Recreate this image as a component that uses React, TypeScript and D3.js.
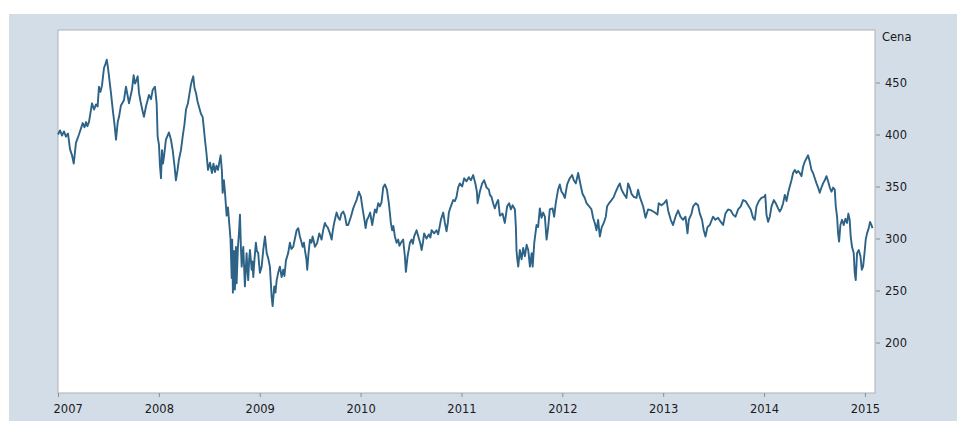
import React, { useRef, useEffect } from "react";
import * as d3 from "d3";

// decimal year of each reading, price
const years = [
  2007.0, 2007.02, 2007.04, 2007.059, 2007.079, 2007.099, 2007.119, 2007.139, 2007.156, 2007.178,
  2007.208, 2007.245, 2007.263, 2007.278, 2007.292, 2007.307, 2007.337, 2007.357, 2007.377, 2007.393,
  2007.406, 2007.421, 2007.436, 2007.456, 2007.471, 2007.483, 2007.493, 2007.502, 2007.525, 2007.545,
  2007.56, 2007.575, 2007.592, 2007.605, 2007.624, 2007.654, 2007.674, 2007.689, 2007.704, 2007.733,
  2007.75, 2007.763, 2007.773, 2007.79, 2007.803, 2007.818, 2007.833, 2007.852, 2007.872, 2007.902,
  2007.922, 2007.939, 2007.961, 2007.978, 2007.988, 2008.001, 2008.011, 2008.021, 2008.031, 2008.041,
  2008.051, 2008.07, 2008.1, 2008.12, 2008.137, 2008.155, 2008.169, 2008.184, 2008.199, 2008.219,
  2008.236, 2008.254, 2008.269, 2008.288, 2008.298, 2008.318, 2008.328, 2008.341, 2008.353, 2008.368,
  2008.383, 2008.397, 2008.417, 2008.434, 2008.447, 2008.457, 2008.472, 2008.487, 2008.507, 2008.526,
  2008.541, 2008.556, 2008.571, 2008.586, 2008.612, 2008.625, 2008.632, 2008.645, 2008.655, 2008.672,
  2008.685, 2008.695, 2008.71, 2008.722, 2008.727, 2008.734, 2008.744, 2008.754, 2008.764, 2008.771,
  2008.784, 2008.794, 2008.804, 2008.814, 2008.821, 2008.837, 2008.844, 2008.853, 2008.87, 2008.878,
  2008.886, 2008.895, 2008.903, 2008.92, 2008.928, 2008.936, 2008.948, 2008.962, 2008.972, 2008.985,
  2008.994, 2009.002, 2009.019, 2009.035, 2009.052, 2009.069, 2009.084, 2009.101, 2009.118, 2009.128,
  2009.144, 2009.156, 2009.168, 2009.183, 2009.2, 2009.217, 2009.233, 2009.245, 2009.26, 2009.282,
  2009.299, 2009.314, 2009.332, 2009.349, 2009.366, 2009.382, 2009.398, 2009.413, 2009.425, 2009.438,
  2009.448, 2009.463, 2009.471, 2009.483, 2009.498, 2009.513, 2009.524, 2009.537, 2009.547, 2009.57,
  2009.59, 2009.602, 2009.613, 2009.631, 2009.646, 2009.661, 2009.673, 2009.696, 2009.713, 2009.725,
  2009.738, 2009.762, 2009.78, 2009.795, 2009.81, 2009.828, 2009.844, 2009.861, 2009.877, 2009.894,
  2009.904, 2009.927, 2009.943, 2009.96, 2009.983, 2010.003, 2010.013, 2010.026, 2010.038, 2010.05,
  2010.063, 2010.075, 2010.095, 2010.115, 2010.127, 2010.142, 2010.157, 2010.175, 2010.191, 2010.208,
  2010.224, 2010.241, 2010.261, 2010.28, 2010.29, 2010.3, 2010.313, 2010.325, 2010.34, 2010.357,
  2010.373, 2010.385, 2010.4, 2010.422, 2010.439, 2010.449, 2010.466, 2010.479, 2010.489, 2010.505,
  2010.518, 2010.531, 2010.555, 2010.578, 2010.593, 2010.605, 2010.618, 2010.63, 2010.654, 2010.677,
  2010.692, 2010.704, 2010.729, 2010.753, 2010.769, 2010.781, 2010.796, 2010.819, 2010.836, 2010.852,
  2010.865, 2010.875, 2010.895, 2010.918, 2010.935, 2010.951, 2010.967, 2010.984, 2011.007, 2011.027,
  2011.05, 2011.073, 2011.093, 2011.116, 2011.14, 2011.153, 2011.16, 2011.182, 2011.205, 2011.225,
  2011.249, 2011.272, 2011.282, 2011.298, 2011.314, 2011.331, 2011.348, 2011.364, 2011.381, 2011.407,
  2011.43, 2011.453, 2011.473, 2011.49, 2011.507, 2011.53, 2011.54, 2011.546, 2011.554, 2011.563,
  2011.579, 2011.596, 2011.612, 2011.629, 2011.646, 2011.662, 2011.679, 2011.696, 2011.706, 2011.722,
  2011.744, 2011.76, 2011.777, 2011.794, 2011.81, 2011.827, 2011.844, 2011.86, 2011.876, 2011.903,
  2011.919, 2011.935, 2011.958, 2011.975, 2011.992, 2012.008, 2012.025, 2012.048, 2012.074, 2012.097,
  2012.114, 2012.134, 2012.157, 2012.18, 2012.2, 2012.223, 2012.24, 2012.266, 2012.289, 2012.305,
  2012.322, 2012.339, 2012.355, 2012.372, 2012.391, 2012.411, 2012.431, 2012.444, 2012.464, 2012.488,
  2012.51, 2012.53, 2012.553, 2012.57, 2012.587, 2012.609, 2012.636, 2012.652, 2012.669, 2012.686,
  2012.709, 2012.735, 2012.751, 2012.768, 2012.783, 2012.801, 2012.825, 2012.85, 2012.884, 2012.917,
  2012.943, 2012.956, 2012.983, 2013.009, 2013.033, 2013.049, 2013.075, 2013.098, 2013.122, 2013.148,
  2013.171, 2013.197, 2013.221, 2013.241, 2013.254, 2013.281, 2013.297, 2013.323, 2013.346, 2013.363,
  2013.385, 2013.402, 2013.419, 2013.439, 2013.462, 2013.495, 2013.518, 2013.544, 2013.571, 2013.594,
  2013.617, 2013.643, 2013.67, 2013.693, 2013.717, 2013.743, 2013.769, 2013.792, 2013.816, 2013.842,
  2013.868, 2013.891, 2013.908, 2013.925, 2013.948, 2013.974, 2014.0, 2014.012, 2014.024, 2014.04,
  2014.057, 2014.074, 2014.097, 2014.116, 2014.139, 2014.156, 2014.173, 2014.189, 2014.206, 2014.223,
  2014.239, 2014.255, 2014.272, 2014.288, 2014.305, 2014.322, 2014.337, 2014.354, 2014.371, 2014.387,
  2014.404, 2014.42, 2014.436, 2014.453, 2014.47, 2014.486, 2014.503, 2014.52, 2014.536, 2014.552,
  2014.569, 2014.585, 2014.602, 2014.619, 2014.635, 2014.652, 2014.669, 2014.685, 2014.701, 2014.711,
  2014.724, 2014.734, 2014.744, 2014.757, 2014.773, 2014.79, 2014.807, 2014.823, 2014.836, 2014.849,
  2014.859, 2014.872, 2014.889, 2014.899, 2014.909, 2014.922, 2014.939, 2014.956, 2014.969, 2014.982,
  2014.996, 2015.008, 2015.021, 2015.038, 2015.051, 2015.065, 2015.075,
];

const prices = [
  400, 404, 399, 403, 398, 401, 386, 380, 372, 392,
  400, 411, 407, 412, 408, 412, 430, 424, 429, 427,
  446, 441, 447, 464, 468, 472, 466, 459, 440, 422,
  410, 395, 412, 417, 428, 433, 446, 438, 430, 443,
  457, 449, 451, 456, 440, 432, 425, 417, 427, 438,
  434, 443, 446, 430, 398, 390, 370, 358, 385, 372,
  379, 395, 402, 395, 385, 370, 356, 365, 376, 385,
  398, 410, 424, 430, 436, 448, 452, 456, 445, 440,
  432, 427, 420, 417, 405, 395, 382, 366, 373, 363,
  372, 364, 370, 366, 380, 365, 344, 356, 345, 322,
  330, 318, 300, 262, 299, 248, 288, 251, 292, 257,
  292, 305, 323, 290, 273, 292, 275, 254, 286, 270,
  260, 280, 289, 270, 278, 263, 280, 296, 288, 286,
  275, 267, 273, 289, 302, 286, 281, 273, 244, 235,
  254, 248, 260, 267, 273, 263, 270, 264, 279, 286,
  296, 290, 292, 300, 308, 310, 302, 297, 292, 296,
  289, 280, 270, 285, 299, 296, 302, 297, 292, 296,
  305, 302, 299, 309, 315, 312, 311, 305, 299, 308,
  315, 325, 320, 318, 324, 326, 322, 313, 313, 318,
  321, 329, 333, 337, 345, 340, 333, 325, 318, 310,
  318, 320, 325, 313, 320, 328, 325, 334, 331, 335,
  349, 352, 347, 334, 325, 315, 308, 312, 302, 296,
  299, 293, 296, 299, 283, 268, 283, 290, 296, 299,
  295, 302, 308, 300, 295, 289, 296, 305, 300, 304,
  301, 308, 305, 308, 304, 310, 318, 325, 315, 307,
  315, 325, 331, 337, 336, 340, 349, 353, 350, 358,
  355, 359, 356, 361, 352, 345, 334, 345, 353, 356,
  349, 347, 342, 340, 334, 329, 334, 337, 322, 324,
  315, 331, 334, 328, 332, 328, 310, 288, 280, 273,
  289, 280, 291, 283, 294, 289, 273, 286, 273, 296,
  313, 311, 329, 320, 325, 321, 299, 311, 328, 329,
  321, 334, 347, 352, 345, 343, 339, 352, 358, 361,
  356, 353, 363, 352, 343, 339, 334, 331, 328, 320,
  315, 308, 318, 302, 311, 315, 321, 331, 334, 337,
  340, 345, 350, 353, 347, 343, 339, 353, 349, 343,
  340, 339, 347, 340, 336, 331, 320, 328, 327, 325,
  323, 334, 332, 334, 337, 327, 318, 313, 321, 327,
  321, 318, 321, 305, 318, 324, 331, 334, 332, 324,
  318, 308, 302, 311, 313, 321, 318, 320, 316, 313,
  324, 328, 327, 323, 321, 328, 331, 337, 336, 332,
  328, 320, 318, 331, 336, 339, 340, 342, 323, 316,
  321, 331, 337, 334, 329, 326, 329, 334, 342, 336,
  344, 350, 356, 363, 366, 363, 365, 363, 360, 369,
  374, 377, 380, 374, 366, 363, 358, 353, 349, 344,
  349, 353, 356, 360, 355, 349, 345, 349, 347, 331,
  321, 305, 297, 313, 318, 313, 319, 315, 324, 318,
  302, 292, 286, 267, 260, 286, 289, 283, 270, 273,
  286, 299, 305, 310, 316, 313, 310,
];

const yearTicks = [2007, 2008, 2009, 2010, 2011, 2012, 2013, 2014, 2015];
const priceTicks = [200, 250, 300, 350, 400, 450];
const axisTitle = "Cena";

const App = () => {
  const svgRef = useRef(null);

  useEffect(() => {
    const width = 957;
    const height = 421;
    const plot = { left: 58, right: 875, top: 30, bottom: 393 };
    const font = "'DejaVu Sans', sans-serif";

    const svg = d3.select(svgRef.current).attr("width", width).attr("height", height);
    svg.selectAll("*").remove();

    svg
      .append("rect")
      .attr("x", 9)
      .attr("y", 14)
      .attr("width", width - 9)
      .attr("height", height - 14)
      .attr("fill", "#d3dde8");

    svg
      .append("rect")
      .attr("x", plot.left)
      .attr("y", plot.top)
      .attr("width", plot.right - plot.left)
      .attr("height", plot.bottom - plot.top)
      .attr("fill", "#ffffff")
      .attr("stroke", "#aeb1b5")
      .attr("stroke-width", 1);

    const x = d3.scaleLinear().domain([2007, 2015.1]).range([plot.left, plot.right]);
    const y = d3.scaleLinear().domain([151.5, 500.5]).range([plot.bottom, plot.top]);

    const points = years.map((yr, i) => [yr, prices[i]]);

    const line = d3
      .line()
      .x((d) => x(d[0]))
      .y((d) => y(d[1]));

    svg
      .append("path")
      .datum(points)
      .attr("d", line)
      .attr("fill", "none")
      .attr("stroke", "#2d6387")
      .attr("stroke-width", 1.9)
      .attr("stroke-linejoin", "round");

    // right value axis
    const yAxis = svg
      .append("g")
      .attr("transform", `translate(${plot.right + 1},0)`)
      .call(d3.axisRight(y).tickValues(priceTicks).tickSize(4).tickPadding(5));
    yAxis.select(".domain").remove();
    yAxis.selectAll("line").attr("stroke", "#8a8f96");
    yAxis
      .selectAll("text")
      .attr("font-family", font)
      .attr("font-size", 11.5)
      .attr("fill", "#1a1a1a");

    svg
      .append("text")
      .attr("x", plot.right + 7)
      .attr("y", 41)
      .attr("font-family", font)
      .attr("font-size", 11.5)
      .attr("fill", "#1a1a1a")
      .text(axisTitle);

    // bottom year axis
    const xAxis = svg
      .append("g")
      .attr("transform", `translate(0,${plot.bottom})`)
      .call(
        d3
          .axisBottom(x)
          .tickValues(yearTicks)
          .tickFormat(d3.format("d"))
          .tickSize(4)
          .tickPadding(8)
      );
    xAxis.select(".domain").remove();
    xAxis.selectAll("line").attr("stroke", "#8a8f96");
    xAxis
      .selectAll("text")
      .attr("font-family", font)
      .attr("font-size", 11.5)
      .attr("fill", "#1a1a1a")
      .attr("text-anchor", (d) => (d === 2007 ? "start" : "middle"))
      .attr("dx", (d) => (d === 2007 ? -5 : 0));
  }, []);

  return (
    <div style={{ position: "absolute", left: 0, top: 0 }}>
      <svg ref={svgRef} style={{ display: "block" }}></svg>
    </div>
  );
};

export default App;
